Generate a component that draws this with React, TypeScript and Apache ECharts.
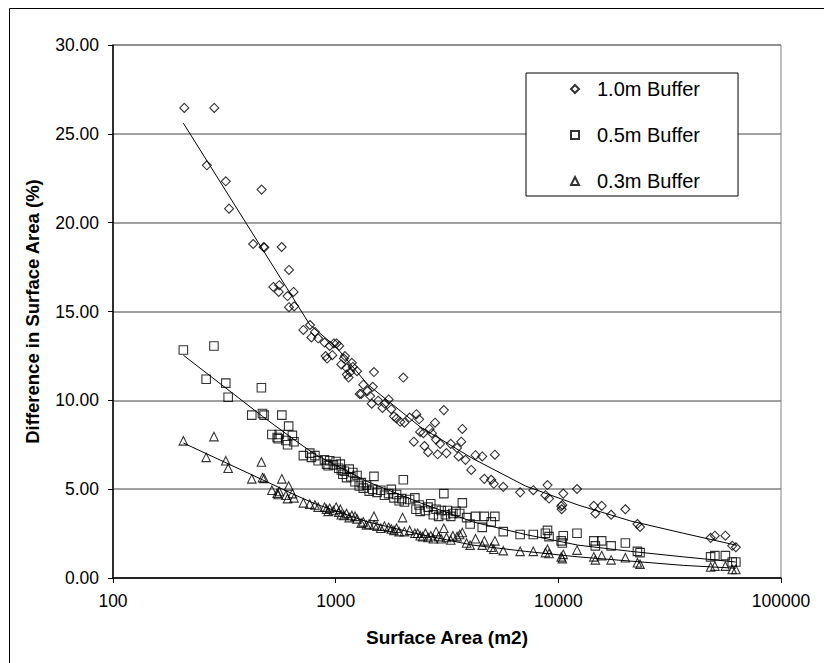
import React, { useEffect, useRef } from "react";
import * as echarts from "echarts";

const xTickLabels = ["100", "1000", "10000", "100000"];
const yTickLabels = ["0.00", "5.00", "10.00", "15.00", "20.00", "25.00", "30.00"];
const seriesNames = ["1.0m Buffer", "0.5m Buffer", "0.3m Buffer"];

const diamondPoints = [
  [209, 26.46], [285, 26.46], [264, 23.23], [321, 22.33], [332, 20.79], [465, 21.86], [426, 18.8], [475, 18.63], [478, 18.6],
  [572, 18.63], [617, 17.34], [525, 16.38], [558, 16.48], [555, 16.1], [608, 15.87], [647, 16.1], [617, 15.24], [651, 15.29],
  [767, 14.24], [716, 13.96], [778, 13.54], [807, 13.85], [834, 13.49], [891, 13.25], [901, 12.49], [915, 12.35], [940, 13.06],
  [966, 12.54], [982, 13.2], [1009, 13.2], [1037, 13.06], [1060, 12.02], [1089, 12.35], [1101, 12.49], [1119, 11.83], [1122, 11.45],
  [1143, 11.28], [1162, 11.59], [1182, 12.11], [1194, 11.88], [1247, 11.64], [1282, 10.36], [1303, 10.36], [1330, 10.88],
  [1390, 10.52], [1428, 10.24], [1468, 10.76], [1486, 11.59], [1452, 9.81], [1552, 9.98], [1622, 9.57], [1665, 9.81],
  [1729, 10.05], [1778, 9.5], [1827, 9.1], [1877, 8.98], [1950, 8.79], [2013, 11.28], [2035, 8.74], [2149, 9.03], [2244, 7.67],
  [2305, 9.22], [2370, 8.93], [2396, 8.22], [2476, 8.15], [2505, 7.43], [2601, 7.08], [2643, 8.39], [2705, 8.15], [2794, 8.74],
  [2824, 7.79], [2871, 6.96], [2946, 7.55], [3061, 9.45], [3146, 7.03], [3287, 7.55], [3508, 7.32], [3565, 6.84], [3706, 8.39],
  [3664, 7.67], [3828, 6.65], [4064, 6.08], [4246, 6.91], [4552, 6.84], [4652, 5.58], [4995, 5.53], [5130, 5.3], [5188, 6.94],
  [5659, 5.13], [6738, 4.82], [7720, 4.94], [8749, 4.66], [8940, 5.23], [9085, 4.47], [10300, 4.04], [10350, 3.87],
  [10420, 4.11], [10520, 4.75], [12130, 5.01], [14430, 4.06], [14660, 3.63], [15660, 4.06], [17260, 3.56], [20000, 3.87],
  [22650, 3.04], [23280, 2.87], [48300, 2.26], [50470, 2.38], [56260, 2.38], [60390, 1.81], [62700, 1.73],
];

const squarePoints = [
  [207, 12.83], [262, 11.19], [284, 13.06], [321, 10.97], [329, 10.17], [420, 9.17], [464, 10.71], [469, 9.26], [477, 9.17],
  [517, 8.08], [546, 7.91], [558, 8.08], [552, 7.84], [573, 9.17], [598, 7.74], [615, 8.55], [608, 7.5], [639, 8.03], [650, 7.67],
  [716, 6.89], [765, 7.03], [778, 6.79], [807, 6.89], [834, 6.6], [891, 6.65], [910, 6.41], [925, 6.32], [940, 6.6], [977, 6.37],
  [1005, 6.56], [1032, 6.18], [1049, 6.41], [1060, 6.08], [1077, 5.84], [1094, 6.01], [1119, 5.65], [1150, 6.13], [1169, 5.7],
  [1194, 5.94], [1221, 5.42], [1247, 5.77], [1276, 5.18], [1303, 5.37], [1330, 5.06], [1376, 5.23], [1414, 4.89], [1486, 5.72],
  [1468, 4.99], [1534, 4.82], [1593, 4.94], [1656, 4.66], [1729, 4.75], [1778, 4.99], [1827, 4.51], [1877, 4.7], [1928, 4.35],
  [1982, 4.47], [2013, 5.53], [2035, 4.28], [2149, 4.42], [2268, 4.51], [2295, 3.87], [2370, 4.11], [2396, 3.75], [2531, 3.8],
  [2601, 3.99], [2673, 4.18], [2746, 3.56], [2824, 3.87], [2900, 3.47], [2980, 3.8], [3061, 4.75], [3111, 3.56], [3178, 3.8],
  [3287, 3.47], [3360, 3.63], [3469, 3.75], [3606, 3.63], [3706, 4.23], [3872, 3.4], [4018, 3.04], [4246, 3.47], [4552, 2.85],
  [4652, 3.47], [4995, 3.16], [5188, 3.47], [5659, 2.61], [6738, 2.45], [7720, 2.45], [8749, 2.52], [8940, 2.68], [9085, 2.33],
  [10300, 2.09], [10420, 1.97], [10520, 2.38], [12130, 2.52], [14430, 2.09], [14660, 1.81], [15660, 2.09], [17260, 1.81],
  [20000, 1.97], [22650, 1.5], [23280, 1.43], [48300, 1.19], [50470, 1.26], [56260, 1.26], [60390, 0.9], [62700, 0.9],
];

const trianglePoints = [
  [207, 7.72], [262, 6.79], [284, 7.96], [321, 6.6], [329, 6.18], [420, 5.58], [464, 6.53], [469, 5.65], [477, 5.61],
  [517, 4.94], [546, 4.77], [558, 4.87], [552, 4.7], [573, 5.58], [598, 4.66], [615, 5.18], [608, 4.47], [639, 4.75], [650, 4.51],
  [716, 4.23], [765, 4.16], [807, 4.11], [834, 3.99], [891, 3.99], [910, 3.87], [925, 3.75], [940, 3.92], [977, 3.8],
  [1005, 3.99], [1032, 3.71], [1049, 3.87], [1060, 3.56], [1089, 3.52], [1119, 3.63], [1150, 3.4], [1182, 3.52], [1221, 3.47],
  [1247, 3.33], [1303, 3.09], [1330, 3.16], [1376, 2.99], [1414, 3.04], [1486, 3.47], [1490, 2.99], [1534, 2.92], [1593, 2.8],
  [1656, 2.92], [1729, 2.85], [1778, 2.76], [1827, 2.68], [1877, 2.8], [1928, 2.61], [1997, 3.4], [2035, 2.61], [2149, 2.68],
  [2268, 2.52], [2335, 2.52], [2396, 2.38], [2460, 2.33], [2531, 2.52], [2601, 2.28], [2673, 2.38], [2746, 2.21], [2824, 2.61],
  [2900, 2.33], [2980, 2.21], [3061, 2.8], [3146, 2.28], [3287, 2.14], [3360, 2.38], [3508, 2.33], [3606, 2.45], [3706, 2.56],
  [3872, 1.97], [4018, 1.85], [4246, 2.21], [4552, 1.85], [4652, 2.09], [4995, 1.73], [5130, 1.62], [5188, 2.09], [5659, 1.54],
  [6738, 1.5], [7720, 1.5], [8749, 1.43], [8940, 1.62], [9085, 1.38], [10300, 1.19], [10420, 1.09], [10520, 1.33], [12130, 1.57],
  [14430, 1.19], [14660, 1.02], [15660, 1.26], [17260, 1.02], [20000, 1.14], [22650, 0.86], [23280, 0.78], [48300, 0.62],
  [50470, 0.67], [56260, 0.67], [60390, 0.48], [62700, 0.48],
];

const diamondTrend = [
  [207, 25.6], [766, 14.25], [1005, 13.0], [1390, 10.9], [2400, 8.5], [4130, 6.72], [7110, 5.18], [12250, 4.11],
  [21130, 3.21], [36400, 2.52], [62700, 1.85],
];
const squareTrend = [
  [207, 12.54], [469, 9.1], [650, 7.79], [807, 6.96], [1390, 5.42], [2400, 4.23], [4130, 3.16], [7110, 2.45],
  [12250, 1.85], [21130, 1.5], [36400, 1.19], [62700, 0.9],
];
const triangleTrend = [
  [207, 7.6], [469, 5.53], [650, 4.7], [807, 4.18], [1390, 3.16], [2400, 2.45], [4130, 1.85], [7110, 1.5],
  [12250, 1.19], [21130, 0.95], [36400, 0.71], [62700, 0.55],
];

const FONT = "'Liberation Sans', Arial, sans-serif";

export default function App() {
  const ref = useRef<HTMLDivElement>(null);
  useEffect(() => {
    if (!ref.current) return;
    const chart = echarts.init(ref.current, null, { renderer: "svg" });
    const markerStyle = { color: "rgba(0,0,0,0)", borderColor: "#000", borderWidth: 1.1 };
    const scatter = (name: string, data: number[][], symbol: string, size: number) => ({
      name,
      type: "scatter",
      data,
      symbol,
      symbolSize: size,
      itemStyle: markerStyle,
      z: 3,
    });
    const trend = (data: number[][]) => ({
      type: "line",
      data,
      showSymbol: false,
      symbol: "none",
      silent: true,
      lineStyle: { color: "#000", width: 1 },
      z: 2,
    });
    chart.setOption({
      animation: false,
      backgroundColor: "#fff",
      textStyle: { fontFamily: FONT },
      grid: {
        left: 113,
        right: 43,
        top: 45,
        bottom: 85,
        show: true,
        borderColor: "#808080",
        borderWidth: 1,
        containLabel: false,
      },
      legend: {
        data: seriesNames,
        orient: "vertical",
        left: 526,
        top: 73,
        padding: [6, 38, 5, 44],
        itemGap: 26,
        itemWidth: 8,
        itemHeight: 8,
        backgroundColor: "#fff",
        borderColor: "#000",
        borderWidth: 1,
        borderRadius: 0,
        textStyle: { fontFamily: FONT, fontSize: 20, color: "#000", lineHeight: 20, padding: [0, 0, 0, 13] },
      },
      xAxis: {
        type: "log",
        logBase: 10,
        min: 100,
        max: 100000,
        name: "Surface Area (m2)",
        nameLocation: "middle",
        nameGap: 50,
        nameTextStyle: { fontFamily: FONT, fontSize: 19, fontWeight: "bold", color: "#000" },
        axisLine: { lineStyle: { color: "#000", width: 1.5 } },
        axisTick: { show: true, length: 5, lineStyle: { color: "#000", width: 1 } },
        minorTick: { show: false },
        splitLine: { show: false },
        axisLabel: {
          fontFamily: FONT,
          fontSize: 17.5,
          color: "#000",
          margin: 14,
          formatter: (v: number) => {
            const i = Math.round(Math.log10(v)) - 2;
            return xTickLabels[i] ?? String(Math.round(v));
          },
        },
      },
      yAxis: {
        type: "value",
        min: 0,
        max: 30,
        interval: 5,
        name: "Difference in Surface Area (%)",
        nameLocation: "middle",
        nameRotate: 90,
        nameGap: 71,
        nameTextStyle: { fontFamily: FONT, fontSize: 18.5, fontWeight: "bold", color: "#000" },
        axisLine: { show: true, lineStyle: { color: "#000", width: 1.5 } },
        axisTick: { show: true, length: 5, lineStyle: { color: "#000", width: 1 } },
        splitLine: { show: true, lineStyle: { color: "#808080", width: 1.5 } },
        axisLabel: {
          fontFamily: FONT,
          fontSize: 17.5,
          color: "#000",
          margin: 14,
          formatter: (v: number) => yTickLabels[Math.round(v / 5)] ?? v.toFixed(2),
        },
      },
      graphic: [
        {
          type: "line",
          shape: { x1: 9.5, y1: 8.5, x2: 824, y2: 8.5 },
          style: { stroke: "#000", lineWidth: 1 },
          silent: true,
          z: 100,
        },
        {
          type: "line",
          shape: { x1: 9.5, y1: 8.5, x2: 9.5, y2: 663 },
          style: { stroke: "#000", lineWidth: 1 },
          silent: true,
          z: 100,
        },
      ],
      series: [
        scatter(seriesNames[0], diamondPoints, "diamond", 9),
        scatter(seriesNames[1], squarePoints, "rect", 8.5),
        scatter(seriesNames[2], trianglePoints, "triangle", 8.5),
        trend(diamondTrend),
        trend(squareTrend),
        trend(triangleTrend),
      ],
    });
    return () => chart.dispose();
  }, []);
  return (
    <div
      ref={ref}
      style={{ position: "absolute", left: 0, top: 0, width: 824, height: 663, background: "#fff" }}
    />
  );
}
